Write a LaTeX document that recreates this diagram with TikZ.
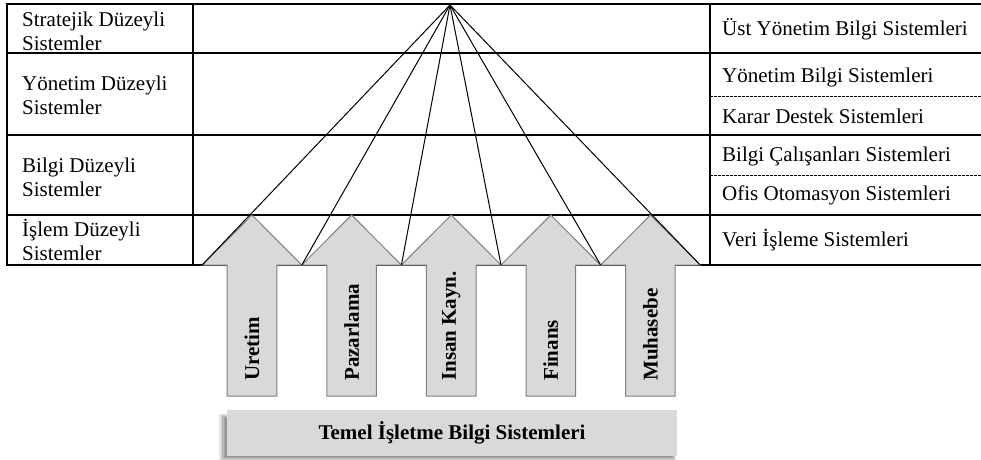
\documentclass[tikz,border=0pt]{standalone}
\usepackage{fontspec}
\setmainfont{Liberation Serif}
\definecolor{arrowfill}{HTML}{D9D9D9}
\definecolor{arrowedge}{HTML}{7F7F7F}
\tikzset{
  tabline/.style={line width=2pt, black},
  subline/.style={line width=0.9pt, black, dash pattern=on 2.5pt off 1.5pt},
  ray/.style={line width=1pt, black},
  cell/.style={inner sep=0pt, align=left, font=\fontsize{21}{24}\selectfont},
  upper/.style={fill=arrowfill, draw=arrowedge, line width=1pt, line join=miter},
  arrlabel/.style={inner sep=0pt, rotate=90, anchor=west, font=\fontsize{21}{24}\selectfont\bfseries},
  basebox/.style={fill=arrowfill, inner sep=0pt, minimum width=450pt, minimum height=46pt,
                  font=\fontsize{21}{24}\selectfont\bfseries}
}
\begin{document}
\begin{tikzpicture}[x=1pt,y=-1pt]
\useasboundingbox (0,0) rectangle (981,459);

% table frame and rows
\draw[tabline] (7,4) -- (981,4);
\foreach \yy in {53,135,215,265} \draw[tabline] (7,\yy) -- (981,\yy);
\draw[tabline] (7,3) -- (7,266);
\draw[tabline] (193,3) -- (193,266);
\draw[tabline] (710,3) -- (710,266);
\draw[subline] (710,96) -- (981,96);
\draw[subline] (710,175) -- (981,175);

% level names
\node[cell, anchor=west] (l1) at (22,31) {Stratejik Düzeyli\\Sistemler};
\node[cell, anchor=west] (l2) at (22,95) {Yönetim Düzeyli\\Sistemler};
\node[cell, anchor=west] (l3) at (22,177) {Bilgi Düzeyli\\Sistemler};
\node[cell, anchor=west] (l4) at (22,240) {İşlem Düzeyli\\Sistemler};

% system types
\node[cell, anchor=west] (r1) at (722,29) {Üst Yönetim Bilgi Sistemleri};
\node[cell, anchor=west] (r2) at (722,77) {Yönetim Bilgi Sistemleri};
\node[cell, anchor=west] (r3) at (722,116) {Karar Destek Sistemleri};
\node[cell, anchor=west] (r4) at (722,156) {Bilgi Çalışanları Sistemleri};
\node[cell, anchor=west] (r5) at (722,195) {Ofis Otomasyon Sistemleri};
\node[cell, anchor=west] (r6) at (722,240) {Veri İşleme Sistemleri};

% functional arrows
\foreach \c/\lab/\nm in {252/Uretim/a1, 351.6/Pazarlama/a2, 451.2/Insan Kayn./a3, 550.8/Finans/a4, 650.4/Muhasebe/a5} {
  \draw[upper] (\c-24.8,396) -- (\c-24.8,265) -- (\c-49.8,265) -- (\c,215)
               -- (\c+49.8,265) -- (\c+24.8,265) -- (\c+24.8,396) -- cycle;
  \node[arrlabel] (\nm) at (\c,381) {\lab};
}

% rays from the apex
\coordinate (apex) at (450,5);
\coordinate (p0) at (202.2,265);
\coordinate (p1) at (301.8,265);
\coordinate (p2) at (401.4,265);
\coordinate (p3) at (501,265);
\coordinate (p4) at (600.6,265);
\coordinate (p5) at (700.2,265);
\foreach \p in {p0,p1,p2,p3,p4,p5} \draw[ray] (apex) -- (\p);

% soft shadow of the base box
\foreach \k in {0,1,2,3,4}
  \fill[black, opacity=0.1] (219+1.6*\k,414+\k) rectangle (676-\k,461-\k);
\node[basebox] (base) at (452,433) {Temel İşletme Bilgi Sistemleri};
\end{tikzpicture}
\end{document}
